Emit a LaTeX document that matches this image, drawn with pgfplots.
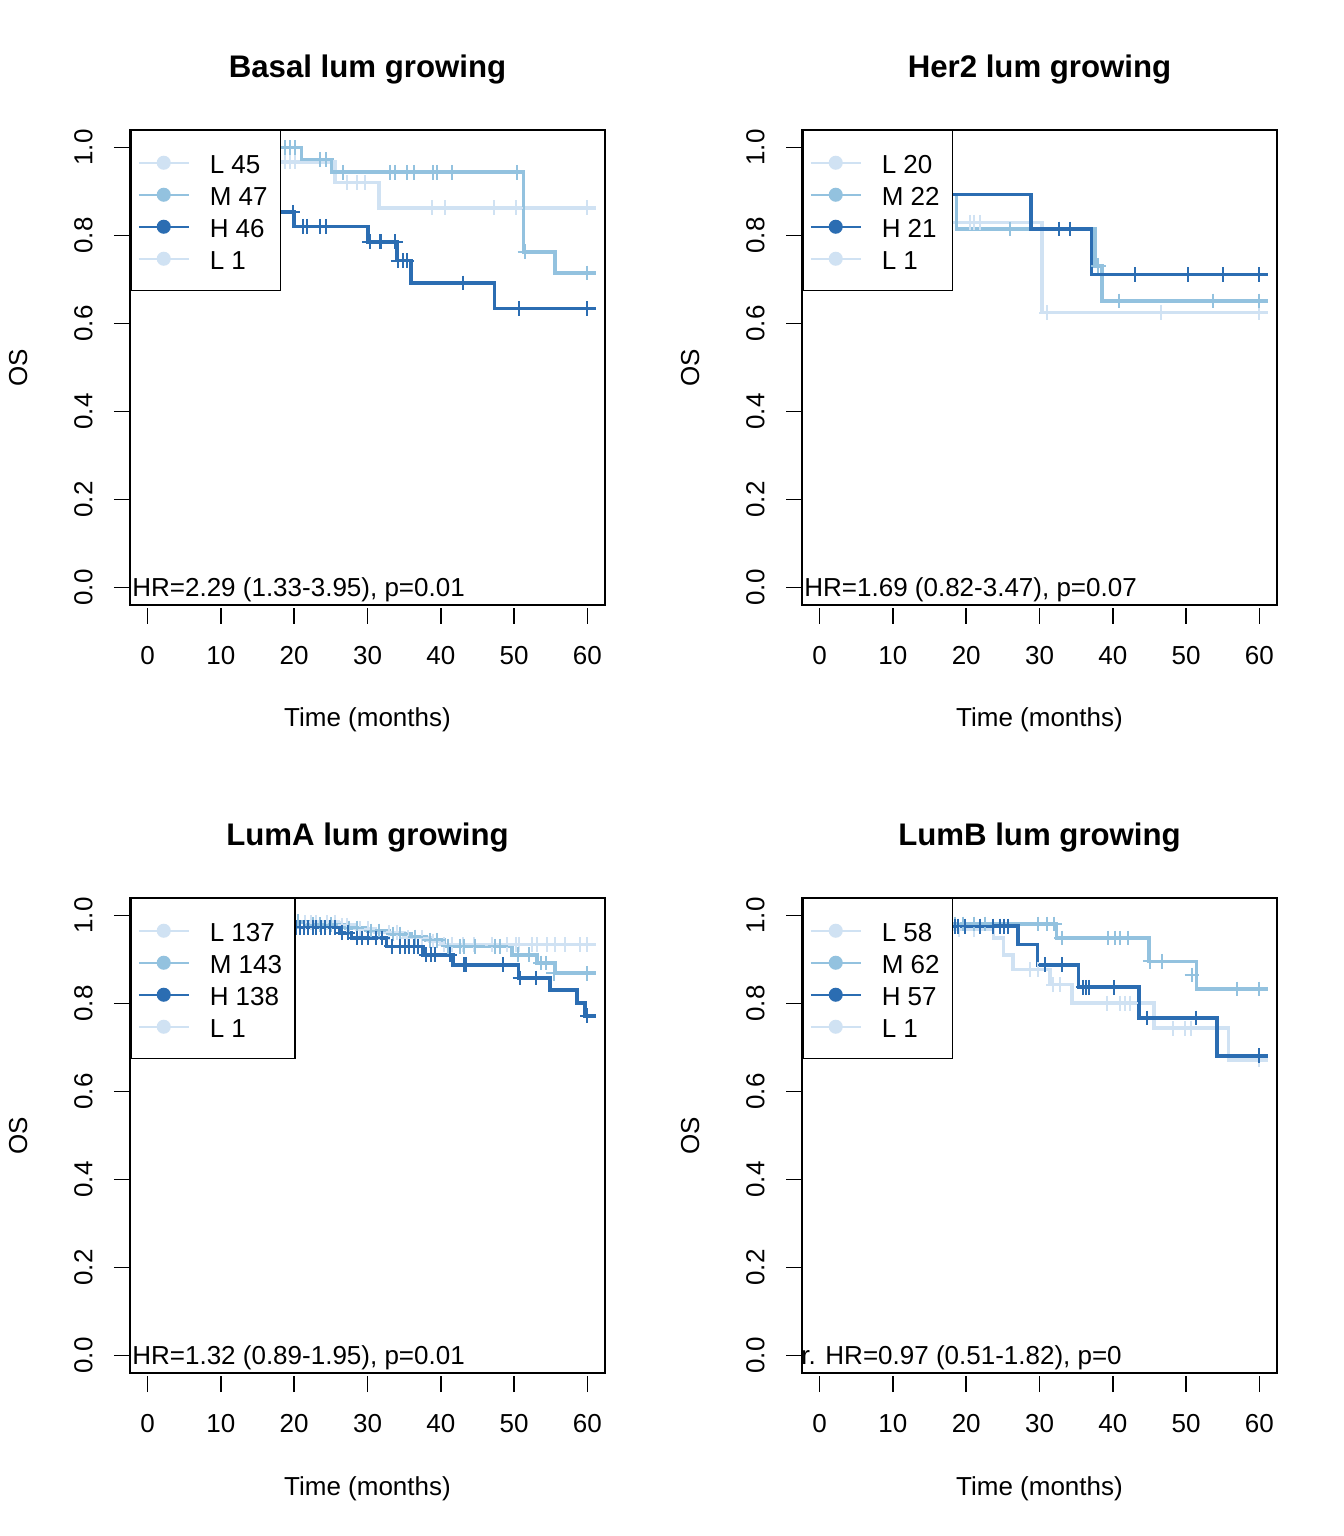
\documentclass[border=0pt]{standalone}
\usepackage{pgfplots}
\pgfplotsset{compat=1.18}
\usepackage{fontspec}
\setmainfont{Liberation Sans}
\newcommand{\tfont}{\fontsize{13bp}{15.6bp}\selectfont}
\newcommand{\legpad}[1]{#1\rule{3bp}{0pt}}
\definecolor{Lc}{HTML}{D0E2F3}
\definecolor{Mc}{HTML}{93C2DF}
\definecolor{Hc}{HTML}{2B6DB2}
\pgfplotsset{
  km/.style={
    scale only axis, width=237.5bp, height=237.5bp,
    anchor=south west,
    xmin=-2.4, xmax=62.4, ymin=-0.04, ymax=1.04,
    axis line style={line width=0.75bp, black},
    xtick={0,10,20,30,40,50,60}, xticklabels={0,10,20,30,40,50,60},
    ytick={0,0.2,0.4,0.6,0.8,1}, yticklabels={0.0,0.2,0.4,0.6,0.8,1.0},
    tick pos=left, tick align=outside, major tick length=8bp,
    tick style={black, line width=0.75bp},
    xtick style={yshift=-1.5bp},
    xticklabel style={font=\tfont, anchor=north, inner sep=0pt, yshift=-12.35bp},
    yticklabel style={font=\tfont, rotate=90, anchor=south, inner sep=0pt, yshift=10.5bp},
    every axis title/.style={at={(0.5,1)}, anchor=base, yshift=26bp, font=\bfseries\fontsize{15.6bp}{18bp}\selectfont},
    every axis x label/.style={at={(0.5,0)}, anchor=base, yshift=-61bp, font=\tfont},
    every axis y label/.style={at={(0,0.5)}, xshift=-51.4bp, rotate=90, anchor=base, font=\tfont},
    xlabel={Time (months)}, ylabel={OS},
    legend style={at={(0,1)}, anchor=north west, draw=black, line width=0.75bp, fill=white,
      inner xsep=3.5bp, inner ysep=8bp, font=\tfont, row sep=0pt,
      nodes={inner sep=0pt, text height=13.5bp, text depth=2.5bp},
      /tikz/every odd column/.append style={column sep=10bp}},
    legend cell align=left,
    legend image code/.code={\draw[mark repeat=2, mark phase=2, #1] plot coordinates {(0bp,0bp) (12.5bp,0bp) (25bp,0bp)};},
  },
  curve/.style={const plot, line width=1.8bp, color=#1, mark=none, forget plot},
  cens/.style={only marks, mark=+, mark size=3.7bp, line width=1bp, color=#1, forget plot},
  leg/.style={color=#1, line width=1bp, mark=*, mark size=3bp, mark options={draw=#1, fill=#1}},
}
\begin{document}
\begin{tikzpicture}
\useasboundingbox (0,0) rectangle (672bp,768bp);
% ---------- Panel 1 ----------
\begin{axis}[km, at={(65bp,465.5bp)}, title={Basal lum growing}]
\addplot[curve=Lc] coordinates {(0,1)(9.5,0.978)(16.5,0.967)(25.6,0.921)(31.6,0.863)(61.2,0.863)};
\addplot[cens=Lc] coordinates {(18.7,0.967)(19.4,0.967)(20.1,0.967)(27.2,0.921)(28.5,0.921)(29.7,0.921)(38.8,0.863)(40.6,0.863)(47.2,0.863)(50.2,0.863)(60.0,0.863)};
\addplot[curve=Mc] coordinates {(0,1)(21.0,0.973)(25.1,0.944)(51.3,0.763)(55.6,0.715)(61.2,0.715)};
\addplot[cens=Mc] coordinates {(18.7,1)(19.4,1)(20.1,1)(23.5,0.973)(24.4,0.973)(26.7,0.944)(33.1,0.944)(33.8,0.944)(35.4,0.944)(36.3,0.944)(39.0,0.944)(39.5,0.944)(41.5,0.944)(50.4,0.944)(51.5,0.763)(60.0,0.715)};
\addplot[curve=Hc] coordinates {(0,1)(4,0.978)(8,0.956)(11,0.934)(13,0.912)(15,0.882)(16.3,0.853)(20.0,0.821)(30.1,0.786)(34.0,0.743)(35.9,0.692)(47.3,0.634)(61.2,0.634)};
\addplot[cens=Hc] coordinates {(19.8,0.853)(21.2,0.821)(21.7,0.821)(23.5,0.821)(24.4,0.821)(30.3,0.786)(31.7,0.786)(31.9,0.786)(33.8,0.786)(34.2,0.743)(34.9,0.743)(35.4,0.743)(43.0,0.692)(50.7,0.634)(60.0,0.634)};
\node[anchor=base west, inner sep=0pt, font=\tfont, yshift=-4.5bp] at (axis cs:-2.13,0) {HR=2.29 (1.33-3.95), p=0.01};
\addlegendimage{leg=Lc}\addlegendentry{\legpad{L 45}}
\addlegendimage{leg=Mc}\addlegendentry{\legpad{M 47}}
\addlegendimage{leg=Hc}\addlegendentry{\legpad{H 46}}
\addlegendimage{leg=Lc}\addlegendentry{\legpad{L 1}}
\end{axis}
% ---------- Panel 2 ----------
\begin{axis}[km, at={(401bp,465.5bp)}, title={Her2 lum growing}]
\addplot[curve=Lc] coordinates {(0,1)(6,0.95)(11,0.89)(15,0.83)(30.3,0.625)(61.2,0.625)};
\addplot[cens=Lc] coordinates {(20.5,0.83)(21.0,0.83)(21.9,0.83)(31.0,0.625)(46.6,0.625)(60.0,0.625)};
\addplot[curve=Mc] coordinates {(0,1)(10,0.955)(15,0.893)(18.7,0.815)(37.6,0.731)(38.5,0.651)(61.2,0.651)};
\addplot[cens=Mc] coordinates {(26.0,0.815)(38.0,0.731)(40.9,0.651)(53.7,0.651)(60.0,0.651)};
\addplot[curve=Hc] coordinates {(0,1)(9,0.947)(15,0.893)(28.8,0.815)(37.1,0.711)(61.2,0.711)};
\addplot[cens=Hc] coordinates {(32.7,0.815)(34.2,0.815)(43.0,0.711)(50.3,0.711)(55.0,0.711)(60.0,0.711)};
\node[anchor=base west, inner sep=0pt, font=\tfont, yshift=-4.5bp] at (axis cs:-2.13,0) {HR=1.69 (0.82-3.47), p=0.07};
\addlegendimage{leg=Lc}\addlegendentry{\legpad{L 20}}
\addlegendimage{leg=Mc}\addlegendentry{\legpad{M 22}}
\addlegendimage{leg=Hc}\addlegendentry{\legpad{H 21}}
\addlegendimage{leg=Lc}\addlegendentry{\legpad{L 1}}
\end{axis}
% ---------- Panel 3 ----------
\begin{axis}[km, at={(65bp,81.5bp)}, title={LumA lum growing}]
\addplot[curve=Lc] coordinates {(0,1)(8,0.993)(15,0.985)(26,0.978)(28.5,0.970)(31,0.962)(35,0.950)(38.5,0.942)(40,0.934)(61.2,0.934)};
\addplot[cens=Lc] coordinates {(19,0.985)(20,0.985)(21.5,0.985)(22.3,0.985)(23,0.985)(24.5,0.985)(25.5,0.985)(26.5,0.978)(27.2,0.978)(29,0.970)(30,0.970)(31.5,0.962)(33,0.962)(34,0.962)(35.5,0.950)(36.5,0.950)(37.5,0.950)(39,0.942)(40.4,0.934)(41.5,0.934)(43,0.934)(44.5,0.934)(47,0.934)(49,0.934)(50.2,0.934)(50.6,0.934)(52.4,0.934)(53.1,0.934)(54.5,0.934)(55.6,0.934)(57.0,0.934)(59.0,0.934)(60.0,0.934)};
\addplot[curve=Mc] coordinates {(0,1)(10,0.993)(17,0.986)(22,0.979)(27,0.972)(30,0.965)(33,0.958)(36,0.951)(38,0.944)(40.5,0.930)(49.7,0.911)(53.1,0.892)(55.6,0.869)(61.2,0.869)};
\addplot[cens=Mc] coordinates {(19.5,0.986)(20.5,0.986)(22.5,0.979)(23.5,0.979)(25,0.979)(27.5,0.972)(28.5,0.972)(30.5,0.965)(31.5,0.965)(33.5,0.958)(34.5,0.958)(36.5,0.951)(38.5,0.944)(39.5,0.944)(41,0.930)(42.6,0.930)(43.1,0.930)(44.7,0.930)(47.4,0.930)(48.1,0.930)(50.5,0.911)(52,0.911)(53.6,0.892)(54.3,0.892)(55.4,0.869)(60.0,0.869)};
\addplot[curve=Hc] coordinates {(0,1)(6,0.993)(12,0.986)(16,0.98)(18.5,0.973)(26.2,0.961)(27.8,0.949)(32.6,0.930)(37.6,0.911)(41.7,0.888)(50.6,0.858)(54.9,0.831)(58.6,0.801)(59.7,0.772)(61.2,0.772)};
\addplot[cens=Hc] coordinates {(19.0,0.973)(19.6,0.973)(20.2,0.973)(20.8,0.973)(21.3,0.973)(21.9,0.973)(22.5,0.973)(23.0,0.973)(23.6,0.973)(24.2,0.973)(24.9,0.973)(25.6,0.973)(26.5,0.961)(27.3,0.961)(28.5,0.949)(29.2,0.949)(30.0,0.949)(31.2,0.949)(32.0,0.949)(33.3,0.930)(34.4,0.930)(35.1,0.930)(35.6,0.930)(36.3,0.930)(36.9,0.930)(38.0,0.911)(38.6,0.911)(39.2,0.911)(41.2,0.911)(43.1,0.888)(43.4,0.888)(48.5,0.888)(50.8,0.858)(53.0,0.858)(60.0,0.772)};
\node[anchor=base west, inner sep=0pt, font=\tfont, yshift=-4.5bp] at (axis cs:-2.13,0) {HR=1.32 (0.89-1.95), p=0.01};
\addlegendimage{leg=Lc}\addlegendentry{\legpad{L 137}}
\addlegendimage{leg=Mc}\addlegendentry{\legpad{M 143}}
\addlegendimage{leg=Hc}\addlegendentry{\legpad{H 138}}
\addlegendimage{leg=Lc}\addlegendentry{\legpad{L 1}}
\end{axis}
% ---------- Panel 4 ----------
\begin{axis}[km, at={(401bp,81.5bp)}, title={LumB lum growing}]
\addplot[curve=Lc] coordinates {(0,1)(10,0.983)(16,0.968)(23.7,0.949)(25.1,0.911)(26.4,0.877)(31.4,0.843)(34.4,0.801)(45.6,0.744)(55.8,0.672)(61.2,0.672)};
\addplot[cens=Lc] coordinates {(19,0.968)(21,0.968)(28.7,0.877)(29.8,0.877)(31.9,0.843)(32.8,0.843)(39.2,0.801)(41.0,0.801)(41.7,0.801)(42.4,0.801)(48.2,0.744)(49.9,0.744)(50.6,0.744)(60.0,0.672)};
\addplot[curve=Mc] coordinates {(0,1)(14,0.981)(32.3,0.949)(44.9,0.896)(51.4,0.833)(61.2,0.833)};
\addplot[cens=Mc] coordinates {(18.5,0.981)(19.5,0.981)(21,0.981)(22.5,0.981)(29.8,0.981)(31.0,0.981)(32.0,0.981)(33.0,0.949)(39.4,0.949)(40.3,0.949)(41.0,0.949)(42.1,0.949)(45.1,0.896)(46.7,0.896)(50.8,0.865)(56.9,0.833)(60.0,0.833)};
\addplot[curve=Hc] coordinates {(0,1)(12,0.976)(27.1,0.934)(29.7,0.888)(35.3,0.837)(43.6,0.767)(54.2,0.681)(61.2,0.681)};
\addplot[cens=Hc] coordinates {(18.5,0.976)(18.9,0.976)(19.8,0.976)(21.9,0.976)(23.7,0.976)(24.6,0.976)(25.1,0.976)(25.7,0.976)(30.8,0.888)(33.0,0.888)(33.1,0.888)(36.0,0.837)(36.3,0.837)(36.7,0.837)(40.1,0.837)(44.7,0.767)(51.4,0.767)(60.0,0.681)};
\node[anchor=base west, inner sep=0pt, font=\tfont, yshift=-4.5bp] at (axis cs:-2.54,0) {r. HR=0.97 (0.51-1.82), p=0};
\addlegendimage{leg=Lc}\addlegendentry{\legpad{L 58}}
\addlegendimage{leg=Mc}\addlegendentry{\legpad{M 62}}
\addlegendimage{leg=Hc}\addlegendentry{\legpad{H 57}}
\addlegendimage{leg=Lc}\addlegendentry{\legpad{L 1}}
\end{axis}
\end{tikzpicture}
\end{document}
